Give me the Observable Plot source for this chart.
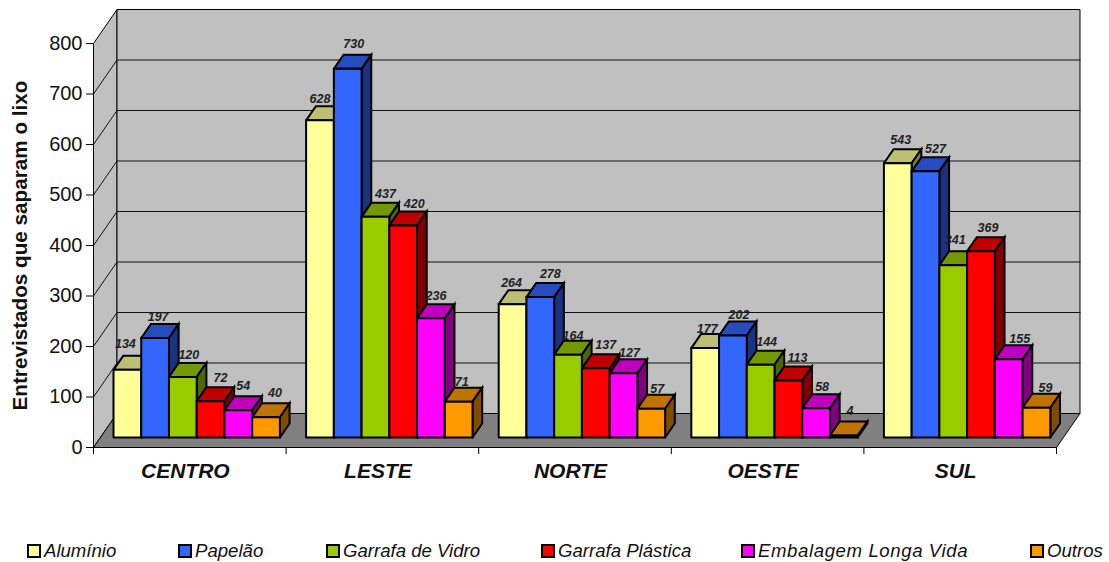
<!DOCTYPE html>
<html><head><meta charset="utf-8">
<style>
html,body{margin:0;padding:0;background:#fff;overflow:hidden}
#chart{position:relative;width:1109px;height:562px;font-family:"Liberation Sans",Arial,sans-serif}
#chart svg{display:block;position:absolute;left:0;top:0}
.lg{position:absolute;top:543px;height:16px;display:flex;align-items:center;font:italic 18.6px "Liberation Sans",Arial,sans-serif;color:#111;white-space:nowrap}
.lg i{display:block;box-sizing:border-box;width:14px;height:14px;border:2px solid #000;margin-right:3px}
</style>
<script src="https://cdn.jsdelivr.net/npm/d3@7"></script>
<script src="https://cdn.jsdelivr.net/npm/@observablehq/plot@0.6"></script>
</head><body><div id="chart"></div>
<script>
const categories = ["CENTRO","LESTE","NORTE","OESTE","SUL"];
const seriesNames = ["Alumínio","Papelão","Garrafa de Vidro","Garrafa Plástica","Embalagem Longa Vida","Outros"];
const aluminio = [134,628,264,177,543];
const papelao  = [197,730,278,202,527];
const vidro    = [120,437,164,144,341];
const plastica = [72,420,137,113,369];
const longaVida= [54,236,127,58,155];
const outros   = [40,71,57,4,59];
const seriesValues = [aluminio,papelao,vidro,plastica,longaVida,outros];
const colors = ["#FFFF99","#3366FF","#99CC00","#FF0000","#FF00FF","#FF9900"];
const yTicks = [0,100,200,300,400,500,600,700,800];
const yTitle = "Entrevistados que saparam o lixo";

// hand-placed label nudges (px), [category][series], as in the reference
const labelDx = [[-2,3,6,10,5,9],[0,6,10,11,5,3],[-1,10,5,10,6,6],[2,6,6,9,6,6],[3,10,2,7,11,9]];
const labelDy = [[-26,-21,-22,-23,-24,-24],[-21,-25,-23,-21,-22,-20],[-21,-23,-19,-23,-20,-20],[-19,-20,-23,-22,-21,-24],[-23,-22,-25,-23,-20,-20]];
const legendX = [27,178,326,541,741,1030];
const legendSpacing = [0,0,0,0,0.6,0];

// oblique projection: depth d (0 front .. 1 back) shifts in data units
const depthX = 23.5/192.6, depthY = 34/0.505;
const P = (x,v,d=0)=>({x:x+d*depthX, y:v+d*depthY});
const nBars = 6, gap = 0.068, barW = (1-2*gap)/nBars, d0 = 0.294, d1 = 0.706;

const poly = (id,fill,pts)=>[...pts,pts[0]].map(p=>({...p,id,fill}));
const nCat = categories.length;
const walls = [
  ...poly("side","#C0C0C0",[P(0,0),P(0,800),P(0,800,1),P(0,0,1)]),
  ...poly("back","#C0C0C0",[P(0,0,1),P(0,800,1),P(nCat,800,1),P(nCat,0,1)]),
  ...poly("floor","#808080",[P(0,0),P(nCat,0),P(nCat,0,1),P(0,0,1)])
];
const grid = yTicks.slice(1,-1).flatMap(v=>[
  {...P(0,v),id:v},{...P(0,v,1),id:v},{...P(nCat,v,1),id:v}
]);
const faces = [], labels = [];
categories.forEach((c,g)=>{
  seriesValues.forEach((vals,s)=>{
    const v = vals[g], x0 = g+gap+s*barW, x1 = x0+barW, id = g+"-"+s;
    const col = colors[s];
    const dark = k=>{const r=d3.rgb(col);return d3.rgb(r.r*k,r.g*k,r.b*k).formatHex();};
    faces.push(...poly(id+"t",dark(.75),[P(x0,v,d0),P(x1,v,d0),P(x1,v,d1),P(x0,v,d1)]));
    faces.push(...poly(id+"s",dark(.5),[P(x1,0,d0),P(x1,v,d0),P(x1,v,d1),P(x1,0,d1)]));
    faces.push(...poly(id+"f",col,[P(x0,0,d0),P(x1,0,d0),P(x1,v,d0),P(x0,v,d0)]));
    labels.push({...P((x0+x1)/2,v,d0),v,dx:labelDx[g][s],dy:labelDy[g][s]});
  });
});
const faceOpts = {x:"x",y:"y",z:"id",fill:{value:d=>d.fill,scale:null},stroke:"#000",strokeLinejoin:"miter",strokeMiterlimit:4};

const H = 530;
const chart = Plot.plot({
  width:1109,height:H,marginLeft:93,marginRight:53,marginTop:43,marginBottom:H-447,
  style:{fontFamily:'"Liberation Sans",Arial,sans-serif',background:"transparent",color:"#111"},
  x:{domain:[0,nCat]},y:{domain:[0,800]},
  marks:[
    Plot.line(walls,{...faceOpts,strokeWidth:1}),
    Plot.line(grid,{x:"x",y:"y",z:"id",stroke:"#111",strokeWidth:1}),
    Plot.line(faces,{...faceOpts,strokeWidth:2}),
    Plot.axisY({ticks:yTicks,tickSize:7,tickPadding:4,fontSize:20,label:null,stroke:"#000"}),
    Plot.axisX({ticks:d3.range(nCat+1),tickSize:7,tickFormat:()=>"",label:null,stroke:"#000"}),
    Plot.text(categories,{x:(d,i)=>i+.5,y:()=>0,text:d=>d,dx:-4.5,dy:24,fontSize:21,fontWeight:"bold",fontStyle:"italic",fill:"#111"}),
    Plot.text(labels,{x:"x",y:"y",text:d=>String(d.v),fontSize:12.5,fontWeight:"bold",fontStyle:"italic",fill:"#222",
      render(index,scales,values,dims,ctx,next){
        const g = next(index,scales,values,dims,ctx);
        d3.select(g).selectAll("text").attr("transform",function(_,i){
          const t=d3.select(this).attr("transform")||"";
          const l=labels[index[i]];
          return `translate(${l.dx},${l.dy}) ${t}`;
        });
        return g;
      }}),
    Plot.text([yTitle],{frameAnchor:"left",dx:-73,rotate:-90,textAnchor:"middle",text:d=>d,fontSize:20.7,fontWeight:"bold",fill:"#111"})
  ]
});
const root = document.getElementById("chart");
root.appendChild(chart);
seriesNames.forEach((n,i)=>{
  const d=document.createElement("div");
  d.className="lg";d.style.left=legendX[i]+"px";d.style.letterSpacing=legendSpacing[i]+"px";
  const sw=document.createElement("i");sw.style.background=colors[i];
  d.appendChild(sw);d.appendChild(document.createTextNode(n));
  root.appendChild(d);
});
</script></body></html>
